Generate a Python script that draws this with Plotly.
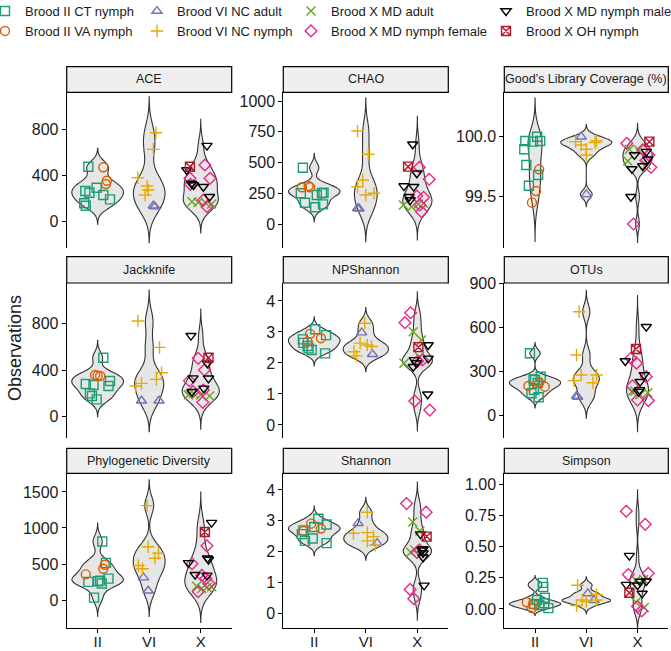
import numpy as np
import plotly.graph_objects as go

# groups (legend order) and their brood / style
groups = ["Brood II CT nymph", "Brood II VA nymph", "Brood VI NC adult", "Brood VI NC nymph",
          "Brood X MD adult", "Brood X MD nymph female", "Brood X MD nymph male", "Brood X OH nymph"]
broods = ["II", "VI", "X"]
group_brood = ["II", "II", "VI", "VI", "X", "X", "X", "X"]
group_color = ["#1b9e77", "#d95f02", "#7570b3", "#e6ab02", "#66a61e", "#e7298a", "#000000", "#b2182b"]
group_symbol = ["square-open", "circle-open", "triangle-up-open", "cross-thin-open",
                "x-thin-open", "diamond-open", "triangle-down-open", "square-x-open"]

metrics = ["ACE", "CHAO", "Good\u2019s Library Coverage (%)", "Jackknife", "NPShannon", "OTUs",
           "Phylogenetic Diversity", "Shannon", "Simpson"]

# values per group, in the order of `groups`
ace = [[475, 265, 250, 294, 231, 193, 159, 138], [470, 354, 326], [138, 130],
       [769, 625, 380, 308, 274, 231], [173, 168, 159, 153], [490, 375, 375, 323, 187, 130],
       [657, 447, 317, 302, 216, 330], [475]]
chao = [[458, 250, 173, 136, 236, 250, 255, 160], [299, 309, 299], [128, 125],
        [757, 568, 358, 304, 236, 250], [155, 141, 163, 169], [462, 364, 228, 217, 100, 155],
        [649, 413, 309, 304, 222, 195], [467]]
goods = [[100.0, 99.964, 99.958, 99.964, 99.894, 99.761, 99.677, 99.587], [99.725, 99.542, 99.444],
         [100.0, 99.514], [99.958, 99.93, 99.894, 99.964, 99.95, 99.846],
         [99.894, 99.888, 99.795, 99.761], [99.944, 99.846, 99.742, 99.80, 99.264, 99.89],
         [99.846, 99.874, 99.728, 99.753, 99.494, 99.81], [99.958]]
jackknife = [[505, 280, 272, 306, 263, 200, 177, 149], [357, 349, 352], [137, 137],
             [820, 594, 377, 320, 286, 263], [186, 200, 186, 177], [500, 400, 308, 229, 123, 215],
             [694, 457, 331, 329, 243, 214], [505]]
npshannon = [[2.76, 2.65, 3.09, 2.9, 2.47, 2.42, 2.31, 2.55], [2.94, 2.8, 2.69], [2.98, 2.28],
             [3.28, 2.64, 2.58, 2.53, 2.36, 2.23], [3.01, 2.74, 1.99, 2.2],
             [3.3, 3.62, 2.1, 0.77, 0.48, 2.05], [2.58, 2.15, 2.1, 1.88, 0.99, 2.0], [2.51]]
otus = [[423, 245, 263, 241, 220, 173, 150, 123], [200, 195, 222], [132, 125],
        [706, 411, 275, 275, 236, 222], [166, 154, 161, 140], [389, 355, 263, 200, 104, 100],
        [604, 370, 275, 229, 161, 173], [452]]
phylo = [[813, 516, 252, 260, 229, 297, 33, 270], [356, 434, 489], [311, 129],
         [1311, 740, 649, 581, 479, 434], [190, 160, 175, 183], [753, 503, 342, 229, 115, 300],
         [1074, 516, 581, 562, 352, 342], [945]]
shannon = [[3.07, 2.88, 2.69, 2.8, 2.35, 2.43, 2.28, 2.57], [2.67, 2.91, 2.75], [2.92, 2.28],
           [3.28, 2.6, 2.62, 2.49, 2.35, 2.21], [2.96, 2.67, 1.98, 2.06],
           [3.56, 3.28, 0.78, 0.48, 2.06, 1.98], [2.57, 2.09, 1.96, 1.82, 0.91, 2.05], [2.49]]
simpson = [[0.209, 0.177, 0.09, 0.045, 0.006, 0.071, 0.04, 0.03], [0.053, 0.006, 0.037], [0.124, 0.07],
           [0.19, 0.116, 0.071, 0.06, 0.071, 0.027], [0.229, 0.235, 0.053, 0.011],
           [0.783, 0.678, 0.275, 0.285, 0.019, -0.016], [0.427, 0.195, 0.222, 0.124, 0.19, 0.22], [0.13]]

# horizontal jitter (fraction of a category step)
ace_jit = [[-0.18, -0.24, -0.16, -0.02, 0.11, 0.24, -0.26, -0.23], [0.11, 0.18, 0.16], [0.08, 0.11],
           [0.13, 0.08, -0.22, -0.04, -0.02, -0.08], [-0.17, -0.05, 0.1, 0.21],
           [0.08, -0.21, 0.18, -0.2, 0.05, 0.12], [0.12, -0.27, -0.14, 0.05, 0.17, -0.18], [-0.21]]
chao_jit = [[-0.22, -0.26, -0.18, 0.02, 0.05, 0.15, 0.18, 0.17], [-0.24, -0.11, -0.08], [-0.16, -0.13],
            [-0.16, 0.05, -0.06, -0.16, 0.0, 0.16], [-0.27, -0.11, 0.02, 0.12],
            [0.04, 0.23, -0.01, 0.12, 0.08, 0.05], [-0.09, -0.01, -0.26, -0.07, -0.16, -0.14], [-0.18]]
goods_jit = [[0.04, -0.19, -0.04, 0.1, -0.21, -0.17, 0.06, -0.12], [0.08, 0.02, -0.06], [-0.1, 0.0],
             [-0.21, -0.1, 0.0, 0.2, 0.17, 0.0], [-0.16, 0.02, -0.19, 0.17],
             [-0.21, 0.22, 0.26, 0.16, -0.08, 0.1], [-0.06, 0.17, -0.11, 0.1, -0.13, 0.2], [0.23]]
jackknife_jit = [[0.11, -0.23, -0.08, 0.24, 0.21, -0.15, -0.11, -0.02], [-0.05, 0.05, 0.0], [-0.15, 0.19],
                 [-0.22, 0.2, 0.24, 0.14, -0.15, -0.26], [-0.24, -0.14, 0.0, 0.17],
                 [-0.05, 0.07, -0.22, 0.05, 0.04, -0.15], [-0.19, 0.13, -0.15, 0.15, 0.06, -0.17], [0.15]]
npshannon_jit = [[-0.22, -0.21, 0.02, 0.23, -0.11, -0.05, 0.21, -0.13], [-0.08, 0.13, -0.13], [-0.08, 0.13],
                 [-0.02, -0.11, 0.03, 0.11, -0.23, -0.18], [-0.08, 0.08, -0.26, 0.04],
                 [-0.24, -0.13, 0.1, -0.05, 0.24, 0.0], [0.21, 0.21, -0.06, -0.08, 0.2, -0.02], [0.02]]
otus_jit = [[-0.1, -0.03, 0.11, 0.0, 0.05, -0.02, -0.07, 0.07], [-0.13, 0.19, 0.08], [-0.19, -0.17],
            [-0.14, -0.19, -0.1, 0.2, -0.24, 0.13], [-0.05, 0.2, -0.11, 0.05],
            [-0.13, -0.02, 0.17, -0.1, 0.0, 0.21], [0.17, -0.24, 0.13, 0.05, 0.02, 0.04], [-0.03]]
phylo_jit = [[0.09, 0.16, -0.18, 0.01, 0.08, 0.21, -0.07, 0.05], [-0.23, 0.11, 0.14], [-0.11, -0.02],
             [-0.04, -0.02, 0.18, 0.11, -0.21, -0.13], [-0.08, 0.02, 0.12, 0.21],
             [0.12, -0.17, 0.02, 0.16, -0.05, 0.1], [0.21, -0.24, 0.13, 0.15, -0.11, 0.12], [0.08]]
shannon_jit = [[0.08, 0.24, -0.21, 0.0, -0.18, -0.03, 0.24, -0.24], [-0.21, -0.06, 0.13], [-0.15, 0.22],
               [0.03, -0.24, 0.03, 0.15, 0.03, 0.18], [-0.09, 0.05, -0.13, -0.05],
               [-0.21, 0.17, -0.14, -0.07, 0.04, -0.01], [0.06, 0.11, 0.11, 0.11, 0.13, 0.09], [0.18]]
simpson_jit = [[0.15, 0.16, 0.19, 0.18, 0.26, 0.04, -0.02, 0.08], [-0.16, -0.06, -0.04], [0.03, 0.15],
               [-0.17, 0.2, -0.08, 0.0, 0.2, -0.19], [-0.03, 0.12, -0.03, 0.13],
               [-0.22, 0.15, -0.18, 0.21, 0.0, 0.08], [-0.16, -0.22, 0.17, 0.09, 0.0, 0.05], [-0.16]]

panel_values = [ace, chao, goods, jackknife, npshannon, otus, phylo, shannon, simpson]
panel_jitter = [ace_jit, chao_jit, goods_jit, jackknife_jit, npshannon_jit, otus_jit,
                phylo_jit, shannon_jit, simpson_jit]

# axis settings per panel
y_ranges = [[-227, 1118], [-195, 1072], [99.062, 100.374], [-182, 1145], [-0.42, 4.58],
            [-155, 902], [-388, 1759], [-0.47, 4.54], [-0.153, 1.087]]
y_ticks = [[0, 400, 800], [0, 250, 500, 750, 1000], [99.5, 100.0], [0, 400, 800], [0, 1, 2, 3, 4],
           [0, 300, 600, 900], [0, 500, 1000, 1500], [0, 1, 2, 3, 4], [0, 0.25, 0.5, 0.75, 1.0]]
y_formats = ["", "", ".1f", "", "", "", "", "", ".2f"]

W, H = 671, 651
col_px = [(66.7, 231.7), (283.3, 448.3), (504.3, 668.3)]
row_px = [(92.3, 248.0), (283.0, 438.0), (473.3, 628.0)]
strip_px = [(66.7, 92.3), (256.7, 283.0), (448.3, 473.3)]
FONT = "Liberation Sans, Arial, sans-serif"


def bw_nrd0(v):
    v = np.asarray(v, float)
    sd = v.std(ddof=1)
    q75, q25 = np.percentile(v, [75, 25])
    lo = min(sd, (q75 - q25) / 1.34)
    if lo <= 0:
        lo = sd if sd > 0 else 1.0
    return 0.9 * lo * len(v) ** -0.2


def kde_peak(v, bw):
    v = np.asarray(v, float)
    grid = np.linspace(v.min() - 3 * bw, v.max() + 3 * bw, 512)
    d = np.exp(-0.5 * ((grid[:, None] - v[None, :]) / bw) ** 2).sum(1)
    return d.max() / (len(v) * bw * np.sqrt(2 * np.pi))


fig = go.Figure()
layout = {}
shapes, annotations = [], []
legend_ids = ["legend", "legend", "legend2", "legend2", "legend3", "legend3", "legend4", "legend4"]

for i, metric in enumerate(metrics):
    r, c = divmod(i, 3)
    k = "" if i == 0 else str(i + 1)
    xa, ya = "x" + k, "y" + k
    vals, jit = panel_values[i], panel_jitter[i]

    # violins, one per brood, scaled to equal area like ggplot
    pooled = []
    for b in broods:
        v = [x for g, gv in enumerate(vals) if group_brood[g] == b for x in gv]
        pooled.append(v)
    bws = [bw_nrd0(v) for v in pooled]
    peaks = [kde_peak(v, bw) for v, bw in zip(pooled, bws)]
    for j, (v, bw) in enumerate(zip(pooled, bws)):
        fig.add_trace(go.Violin(
            y=v, x0=j + 1, xaxis=xa, yaxis=ya, points=False, bandwidth=bw,
            spanmode="manual", span=[min(v) - 3 * bw, max(v) + 3 * bw],
            scalemode="width", width=1.0 * peaks[j] / max(peaks),
            fillcolor="#e6e6e6", line=dict(color="#333333", width=1.1),
            showlegend=False, hoverinfo="skip"))

    # jittered points
    for g, name in enumerate(groups):
        pos = broods.index(group_brood[g]) + 1
        fig.add_trace(go.Scatter(
            x=[pos + d for d in jit[g]], y=vals[g], xaxis=xa, yaxis=ya, mode="markers",
            name=name, legend=legend_ids[g], legendgroup=name, showlegend=(i == 0),
            marker=dict(symbol=group_symbol[g], color=group_color[g], size=9,
                        line=dict(color=group_color[g], width=1.4))))

    x0, x1 = col_px[c]
    y0, y1 = row_px[r]
    bottom = r == 2
    layout["xaxis" + k] = dict(
        domain=[x0 / W, x1 / W], anchor=ya, range=[0.4, 3.6], tickvals=[1, 2, 3], ticktext=broods,
        showticklabels=bottom, showline=bottom, linecolor="black", linewidth=1,
        ticks="outside" if bottom else "", ticklen=4, tickcolor="black", ticklabelstandoff=-4,
        showgrid=False, zeroline=False, tickfont=dict(size=15, color="#1a1a1a"))
    layout["yaxis" + k] = dict(
        domain=[1 - y1 / H, 1 - y0 / H], anchor=xa, range=y_ranges[i], tickvals=y_ticks[i],
        tickformat=y_formats[i], showline=True, linecolor="black", linewidth=1,
        ticks="outside", ticklen=4, tickcolor="black", showgrid=False, zeroline=False,
        tickfont=dict(size=16, color="#1a1a1a"))

    s0, s1 = strip_px[r]
    shapes.append(dict(type="rect", xref="paper", yref="paper", x0=x0 / W, x1=x1 / W,
                       y0=1 - s1 / H, y1=1 - s0 / H, fillcolor="#efefef",
                       line=dict(color="black", width=1.2)))
    annotations.append(dict(text=metric, xref="paper", yref="paper", x=(x0 + x1) / 2 / W,
                            y=1 - (s0 + s1) / 2 / H, xanchor="center", yanchor="middle",
                            showarrow=False, font=dict(size=12.5, color="#1a1a1a")))

annotations.append(dict(text="Observations", xref="paper", yref="paper", x=15 / W, y=1 - 348 / H,
                        xanchor="center", yanchor="middle", textangle=-90, showarrow=False,
                        font=dict(size=18, color="#1a1a1a")))

legend_x = [-15, 137, 291, 486]
for n, lid in enumerate(["legend", "legend2", "legend3", "legend4"]):
    layout[lid] = dict(x=legend_x[n] / W, y=1.006, xanchor="left", yanchor="top",
                       orientation="v", bgcolor="rgba(0,0,0,0)", tracegroupgap=0,
                       font=dict(size=13, color="#1a1a1a"))

fig.update_layout(**layout)
fig.update_layout(
    width=W, height=H, margin=dict(l=0, r=0, t=0, b=0, autoexpand=False),
    plot_bgcolor="white", paper_bgcolor="white", violinmode="overlay",
    font=dict(family=FONT, color="#1a1a1a"),
    shapes=shapes, annotations=annotations)

fig.write_html("out.html", config={"displayModeBar": False},
               post_script="document.body.style.margin='0';")
